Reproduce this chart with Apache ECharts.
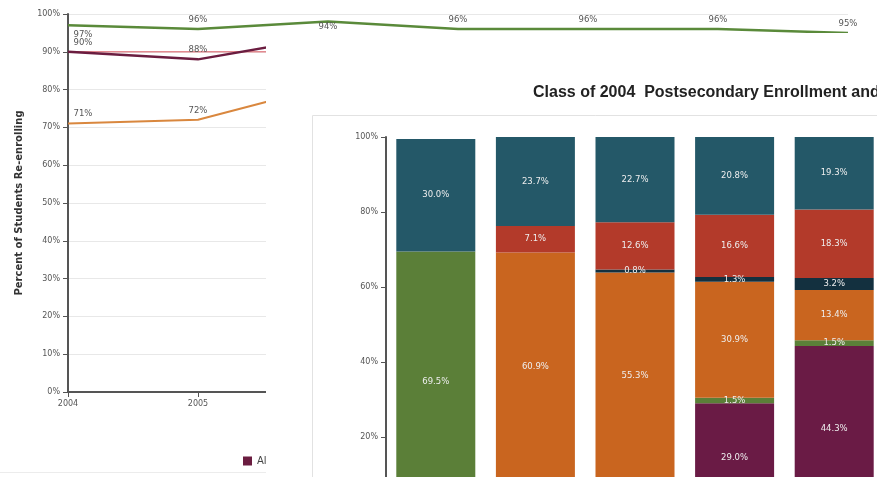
<!DOCTYPE html>
<html><head><meta charset="utf-8">
<script src="https://cdn.jsdelivr.net/npm/echarts@6/dist/echarts.min.js"></script>
<style>html,body{margin:0;padding:0;background:#fff}#c{width:877px;height:477px}</style>
</head><body><div id="c"></div>
<script>
// Line chart (background)
const years = ['2004','2005','2006','2007','2008','2009','2010'];
const lineGreen = [97, 96, 98, 96, 96, 96, 95];
const linePurple = [90, 88, 94];
const linePink = [90, 90, 90];
const lineOrange = [71, 72, 81];
const lineTicks = [0,10,20,30,40,50,60,70,80,90,100];

// Stacked bar chart (overlay panel)
const barCats = ['Year 1','Year 2','Year 3','Year 4','Year 5'];
const barPurple = [0, 8.3, 6.9, 29.0, 44.3];
const barGreen = [69.5, 0, 1.7, 1.5, 1.5];
const barOrange = [0, 60.9, 55.3, 30.9, 13.4];
const barNavy = [0, 0, 0.8, 1.3, 3.2];
const barRed = [0, 7.1, 12.6, 16.6, 18.3];
const barTeal = [30.0, 23.7, 22.7, 20.8, 19.3];

const FONT = 'DejaVu Sans';
const chart = echarts.init(document.getElementById('c'));

function lineData(arr, firstPos, hideIdx) {
  return arr.map((v, i) => {
    const item = {value: v};
    if (i === 0) item.label = {offset: [15, 0], position: firstPos};
    if (hideIdx !== undefined && i === hideIdx) item.label = {show: false};
    return item;
  });
}
const lineLabel = {show: true, position: 'top', distance: 5, formatter: p => p.value + '%', fontFamily: FONT, fontSize: 8.5, color: '#555'};

function barSeries(name, arr, color) {
  return {
    name: name, type: 'bar', stack: 'b', xAxisIndex: 1, yAxisIndex: 1, z: 20,
    barWidth: 79, data: arr,
    itemStyle: {color: color},
    label: {show: true, position: 'inside', fontFamily: FONT, fontSize: 8.5, color: '#eeeeee',
      formatter: p => p.value > 0 ? p.value.toFixed(1) + '%' : ''}
  };
}

chart.setOption({
  animation: false,
  grid: [
    {left: 68, top: 14, width: 780, height: 378, outerBoundsMode: 'none'},
    {left: 386, top: 137, width: 498, height: 375, z: 20, outerBoundsMode: 'none'}
  ],
  legend: {left: 238, top: 451, itemWidth: 9, itemHeight: 9, icon: 'rect', z: 1, itemGap: 4,
    data: ['All Students'], textStyle: {fontFamily: FONT, fontSize: 10, color: '#444'}},
  graphic: [
    {type: 'line', z: 1, shape: {x1: 0, y1: 472.5, x2: 266, y2: 472.5}, style: {stroke: '#ececec', lineWidth: 1}},
    {type: 'rect', z: 10, shape: {x: 266, y: 33, width: 620, height: 450}, style: {fill: '#fff'}},
    {type: 'rect', z: 11, shape: {x: 312.5, y: 115.5, width: 600, height: 400}, style: {fill: '#fff', stroke: '#e2e2e2', lineWidth: 1}},
    {type: 'text', z: 21, left: 533, top: 85, style: {text: 'Class of 2004  Postsecondary Enrollment and Persistence', font: 'bold 16px "Liberation Sans"', fill: '#222'}}
  ],
  xAxis: [
    {type: 'category', gridIndex: 0, data: years, boundaryGap: false,
      axisLine: {lineStyle: {color: '#555', width: 2}},
      axisTick: {show: true, length: 5, lineStyle: {color: '#555'}},
      axisLabel: {fontFamily: FONT, fontSize: 8, color: '#555', margin: 8}},
    {type: 'category', gridIndex: 1, data: barCats, z: 20, show: false}
  ],
  yAxis: [
    {type: 'value', gridIndex: 0, min: 0, max: 100, interval: 10,
      name: 'Percent of Students Re-enrolling', nameLocation: 'middle', nameGap: 44, nameRotate: 90,
      nameTextStyle: {fontFamily: FONT, fontSize: 10, fontWeight: 'bold', color: '#333'},
      axisLine: {show: true, lineStyle: {color: '#555', width: 2}},
      axisTick: {show: true, length: 5, lineStyle: {color: '#555'}},
      axisLabel: {fontFamily: FONT, fontSize: 8, color: '#555', formatter: v => lineTicks.includes(v) ? v + '%' : ''},
      splitLine: {show: true, lineStyle: {color: '#e8e8e8'}}},
    {type: 'value', gridIndex: 1, min: 0, max: 100, interval: 20, z: 20,
      axisLine: {show: true, lineStyle: {color: '#555', width: 2}},
      axisTick: {show: true, length: 5, lineStyle: {color: '#555'}},
      axisLabel: {fontFamily: FONT, fontSize: 8, color: '#555', formatter: '{value}%'},
      splitLine: {show: false}}
  ],
  series: [
    {name: 'Target', type: 'line', z: 1, data: linePink, showSymbol: false, symbol: 'none',
      lineStyle: {color: '#e38a90', width: 1.5}},
    {name: 'Green', type: 'line', z: 2, data: lineData(lineGreen, 'bottom', 2), symbol: 'circle', symbolSize: 0,
      itemStyle: {color: '#5a8a3a'}, lineStyle: {color: '#5a8a3a', width: 2.5}, label: lineLabel},
    {name: 'All Students', type: 'line', z: 2, data: lineData(linePurple, 'top'), symbol: 'circle', symbolSize: 0,
      itemStyle: {color: '#6b1d40'}, lineStyle: {color: '#6b1d40', width: 2.5}, label: lineLabel},
    {name: 'Orange', type: 'line', z: 2, data: lineData(lineOrange, 'top'), symbol: 'circle', symbolSize: 0,
      itemStyle: {color: '#d9873e'}, lineStyle: {color: '#d9873e', width: 2}, label: lineLabel},
    barSeries('b1', barPurple, '#6a1b45'),
    barSeries('b2', barGreen, '#5b7f38'),
    barSeries('b3', barOrange, '#c9651f'),
    barSeries('b4', barNavy, '#13303f'),
    barSeries('b5', barRed, '#b33a2a'),
    barSeries('b6', barTeal, '#245868')
  ]
});
</script></body></html>
